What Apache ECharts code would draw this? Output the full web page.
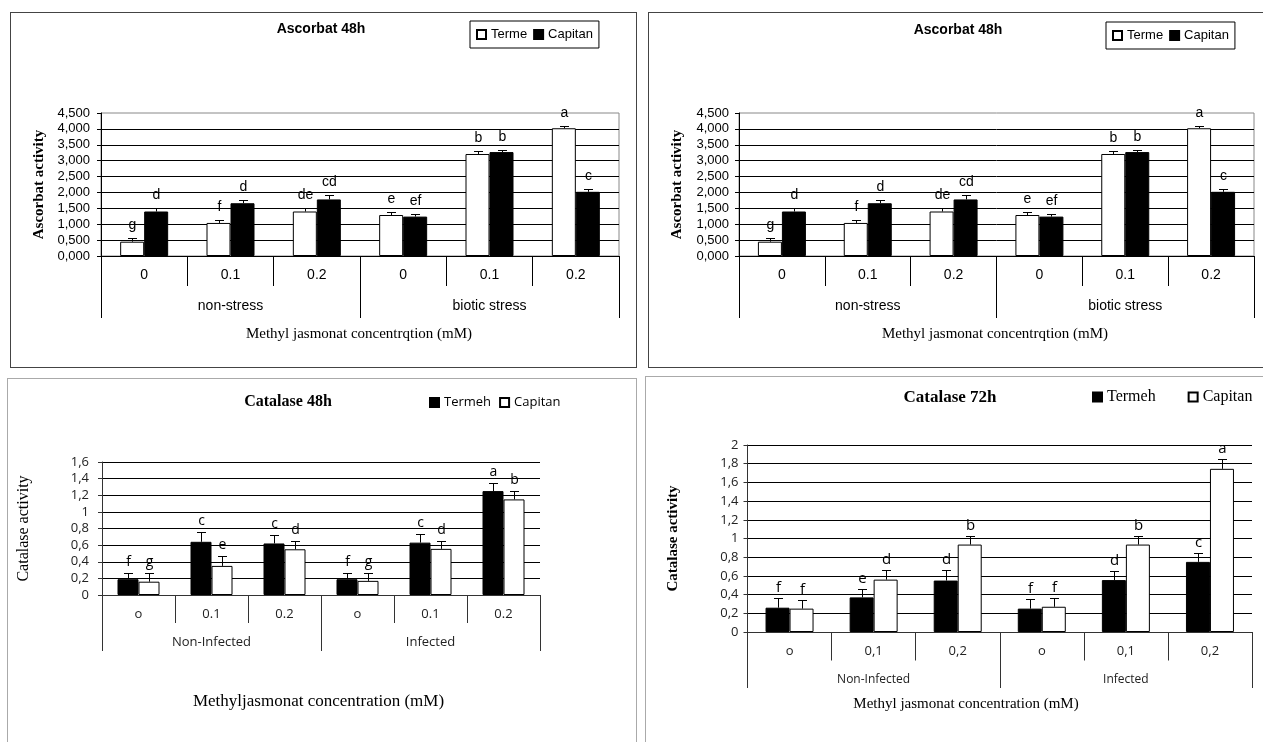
<!DOCTYPE html>
<html>
<head>
<meta charset="utf-8">
<title>Ascorbat and Catalase activity</title>
<script src="https://cdn.jsdelivr.net/npm/echarts@6/dist/echarts.min.js"></script>
<style>
html, body { margin: 0; padding: 0; width: 1263px; height: 742px; overflow: hidden; background: #fff; }
.panel { position: absolute; box-sizing: border-box; }
.chart { position: absolute; left: 0; top: 0; width: 100%; height: 100%; }
#p1 { left: 10px; top: 12px; width: 627px; height: 356px; border: 1px solid #444; }
#p2 { left: 648px; top: 12px; width: 620px; height: 356px; border: 1px solid #444; }
#p3 { left: 7px; top: 378px; width: 630px; height: 380px; border: 1px solid #aaa; }
#p4 { left: 645px; top: 376px; width: 625px; height: 380px; border: 1px solid #aaa; }
</style>
</head>
<body>
<div class="panel" id="p1"><div class="chart" id="c1"></div></div>
<div class="panel" id="p2"><div class="chart" id="c2"></div></div>
<div class="panel" id="p3"><div class="chart" id="c3"></div></div>
<div class="panel" id="p4"><div class="chart" id="c4"></div></div>
<script>
// Ascorbat 48h (same figure drawn twice on top)
var ascCats = ['0', '0.1', '0.2', '0', '0.1', '0.2'];
var ascGroups = ['non-stress', 'biotic stress'];
var ascTerme = [0.45, 1.04, 1.40, 1.29, 3.21, 4.02];
var ascTermeErr = [0.13, 0.10, 0.11, 0.09, 0.08, 0.08];
var ascTermeLetters = ['g', 'f', 'de', 'e', 'b', 'a'];
var ascCapitan = [1.40, 1.66, 1.78, 1.24, 3.27, 2.02];
var ascCapitanErr = [0.11, 0.09, 0.13, 0.08, 0.08, 0.10];
var ascCapitanLetters = ['d', 'd', 'cd', 'ef', 'b', 'c'];

// Catalase 48h
var cat48Cats = ['o', '0.1', '0.2', 'o', '0.1', '0.2'];
var cat48Groups = ['Non-Infected', 'Infected'];
var cat48Termeh = [0.19, 0.64, 0.62, 0.19, 0.63, 1.25];
var cat48TermehErr = [0.08, 0.12, 0.10, 0.08, 0.10, 0.10];
var cat48TermehLetters = ['f', 'c', 'c', 'f', 'c', 'a'];
var cat48Capitan = [0.16, 0.35, 0.55, 0.17, 0.555, 1.15];
var cat48CapitanErr = [0.10, 0.12, 0.10, 0.09, 0.10, 0.10];
var cat48CapitanLetters = ['g', 'e', 'd', 'g', 'd', 'b'];

// Catalase 72h
var cat72Cats = ['o', '0,1', '0,2', 'o', '0,1', '0,2'];
var cat72Groups = ['Non-Infected', 'Infected'];
var cat72Termeh = [0.26, 0.37, 0.55, 0.25, 0.555, 0.75];
var cat72TermehErr = [0.10, 0.09, 0.11, 0.10, 0.10, 0.10];
var cat72TermehLetters = ['f', 'e', 'd', 'f', 'd', 'c'];
var cat72Capitan = [0.25, 0.56, 0.935, 0.27, 0.935, 1.745];
var cat72CapitanErr = [0.09, 0.10, 0.09, 0.09, 0.09, 0.10];
var cat72CapitanLetters = ['f', 'd', 'b', 'f', 'b', 'a'];

function commaFmt(digits) {
  return function (v) {
    if (digits) return v.toFixed(digits).replace('.', ',');
    return String(Math.round(v * 10) / 10).replace('.', ',');
  };
}

// error bar + significance letter, placed over one bar of each pair
function errSeries(vals, errs, letters, side, s) {
  return {
    type: 'custom',
    name: 'err' + side,
    silent: true,
    z: 10,
    data: vals.map(function (v, i) { return [i, v, errs[i]]; }),
    renderItem: function (params, api) {
      var c = api.coord([api.value(0), api.value(1)]);
      var t = api.coord([api.value(0), api.value(1) + api.value(2)]);
      var x = Math.round(c[0] + side * s.barWidth / 2) + 0.5;
      var yt = Math.round(t[1]) + 0.5;
      return {
        type: 'group',
        children: [
          { type: 'line', shape: { x1: x, y1: c[1], x2: x, y2: yt }, style: { stroke: '#000', lineWidth: 1 } },
          { type: 'line', shape: { x1: x - s.cap, y1: yt, x2: x + s.cap, y2: yt }, style: { stroke: '#000', lineWidth: 1 } },
          { type: 'text', x: x, y: yt - s.letterGap,
            style: { text: letters[params.dataIndex], font: s.letterFont, fill: '#000', align: 'center', verticalAlign: 'middle' } }
        ]
      };
    }
  };
}

function panel(d, s) {
  var white = { color: '#fff', borderColor: '#000', borderWidth: 1 };
  var black = { color: '#000', borderColor: '#000', borderWidth: 1 };
  return {
    animation: false,
    graphic: [
      { type: 'text', x: s.title[0], y: s.title[1],
        style: { text: s.titleText, font: s.titleFont, fill: '#000', align: 'center', verticalAlign: 'middle', textAlign: 'center', textVerticalAlign: 'middle' } },
      { type: 'text', x: s.xTitle[0], y: s.xTitle[1],
        style: { text: s.xTitleText, font: s.xTitleFont, fill: '#000', align: 'center', verticalAlign: 'middle', textAlign: 'center', textVerticalAlign: 'middle' } }
    ],
    legend: Object.assign({
      data: [d.first.name, d.second.name],
      icon: 'rect', itemWidth: 9, itemHeight: 9,
      selectedMode: false
    }, s.legend),
    grid: Object.assign({ containLabel: false }, s.grid),
    xAxis: [
      {
        type: 'category', data: d.cats, position: 'bottom',
        axisLine: { show: true, lineStyle: { color: s.axisColor, width: 1 } },
        axisTick: { show: true, interval: 0, length: s.tick1, lineStyle: { color: s.axisColor } },
        axisLabel: { interval: 0, margin: s.catMargin, color: s.labelColor, fontFamily: s.labelFamily, fontSize: s.catSize }
      },
      {
        type: 'category', data: d.groups, position: 'bottom',
        axisLine: { show: false },
        axisTick: { show: true, interval: 0, length: s.tick2, lineStyle: { color: s.axisColor } },
        axisLabel: { interval: 0, margin: s.groupMargin, color: s.labelColor, fontFamily: s.labelFamily, fontSize: s.groupSize }
      }
    ],
    yAxis: {
      type: 'value', min: 0, max: s.yMax, interval: s.yStep,
      name: s.yName, nameLocation: 'middle', nameGap: s.yNameGap,
      nameTextStyle: s.yNameStyle,
      axisLine: { show: true, lineStyle: { color: s.axisColor } },
      axisTick: { show: true, length: 4, lineStyle: { color: s.axisColor } },
      axisLabel: { margin: s.yMargin, formatter: s.yFmt, color: s.labelColor, fontFamily: s.labelFamily, fontSize: s.ySize },
      splitLine: { showMaxLine: s.showMax, lineStyle: { color: '#000', width: 1 } }
    },
    series: [
      { type: 'bar', name: d.first.name, data: d.first.vals, barWidth: s.barWidth, barGap: '0%',
        itemStyle: d.first.white ? white : black, silent: true },
      { type: 'bar', name: d.second.name, data: d.second.vals, barWidth: s.barWidth, barGap: '0%',
        itemStyle: d.second.white ? white : black, silent: true },
      errSeries(d.first.vals, d.first.errs, d.first.letters, -1, s),
      errSeries(d.second.vals, d.second.errs, d.second.letters, 1, s)
    ]
  };
}

var ascData = {
  cats: ascCats, groups: ascGroups,
  first: { name: 'Terme', vals: ascTerme, errs: ascTermeErr, letters: ascTermeLetters, white: true },
  second: { name: 'Capitan', vals: ascCapitan, errs: ascCapitanErr, letters: ascCapitanLetters, white: false }
};

function ascStyle(o) {
  return Object.assign({
    titleText: 'Ascorbat 48h', titleFont: 'bold 14px "Liberation Sans", Arial, sans-serif',
    xTitleText: 'Methyl jasmonat concentrqtion (mM)', xTitleFont: '15px "Liberation Serif", "Times New Roman", serif',
    axisColor: '#000', labelColor: '#000', labelFamily: 'Liberation Sans',
    catSize: 14, groupSize: 14, ySize: 13,
    tick1: 30, tick2: 62, catMargin: 12, groupMargin: 43,
    yMax: 4.5, yStep: 0.5, yFmt: commaFmt(3), showMax: false,
    yName: 'Ascorbat activity', yNameGap: 54,
    yNameStyle: { fontFamily: 'Liberation Serif', fontWeight: 'bold', fontSize: 15, color: '#000' },
    barWidth: 24, cap: 4.5, letterGap: 13, letterFont: '14px "Liberation Sans", Arial, sans-serif'
  }, o);
}

var opt1 = panel(ascData, ascStyle({
  title: [310, 16.5], xTitle: [348, 321.5],
  legend: { left: 459, top: 8, padding: [7, 6], itemGap: 6, borderColor: '#000', borderWidth: 1,
    textStyle: { fontFamily: 'Liberation Sans', fontSize: 13, color: '#000' } },
  grid: { left: 90, top: 100, width: 518, height: 143, show: true, borderColor: '#888', borderWidth: 1 },
  yMargin: 11
}));

var opt2 = panel(ascData, ascStyle({
  title: [309, 17], xTitle: [346, 321.5],
  legend: { left: 457, top: 9, padding: [7, 6], itemGap: 6, borderColor: '#000', borderWidth: 1,
    textStyle: { fontFamily: 'Liberation Sans', fontSize: 13, color: '#000' } },
  grid: { left: 90, top: 100, width: 515, height: 143, show: true, borderColor: '#888', borderWidth: 1 },
  yMargin: 10
}));

var opt3 = panel({
  cats: cat48Cats, groups: cat48Groups,
  first: { name: 'Termeh', vals: cat48Termeh, errs: cat48TermehErr, letters: cat48TermehLetters, white: false },
  second: { name: 'Capitan', vals: cat48Capitan, errs: cat48CapitanErr, letters: cat48CapitanLetters, white: true }
}, {
  titleText: 'Catalase 48h', titleFont: 'bold 16px "Liberation Serif", "Times New Roman", serif', title: [280, 22.5],
  xTitleText: 'Methyljasmonat concentration (mM)', xTitleFont: '17px "Liberation Serif", "Times New Roman", serif', xTitle: [310.5, 323],
  legend: { left: 421, top: 17, padding: 0, itemGap: 8,
    textStyle: { fontFamily: 'Open Sans', fontSize: 13, color: '#000' } },
  grid: { left: 93, top: 83, width: 439, height: 133 },
  axisColor: '#333', labelColor: '#222', labelFamily: 'Open Sans',
  catSize: 13, groupSize: 13, ySize: 13,
  tick1: 28, tick2: 56, catMargin: 13, groupMargin: 41,
  yMax: 1.6, yStep: 0.2, yFmt: commaFmt(0), showMax: true, yMargin: 13,
  yName: 'Catalase activity', yNameGap: 70,
  yNameStyle: { fontFamily: 'Liberation Serif', fontSize: 16, color: '#000' },
  barWidth: 21, cap: 4.5, letterGap: 11, letterFont: '14px "Open Sans", sans-serif'
});

var opt4 = panel({
  cats: cat72Cats, groups: cat72Groups,
  first: { name: 'Termeh', vals: cat72Termeh, errs: cat72TermehErr, letters: cat72TermehLetters, white: false },
  second: { name: 'Capitan', vals: cat72Capitan, errs: cat72CapitanErr, letters: cat72CapitanLetters, white: true }
}, {
  titleText: 'Catalase 72h', titleFont: 'bold 17px "Liberation Serif", "Times New Roman", serif', title: [304, 20.5],
  xTitleText: 'Methyl jasmonat concentration (mM)', xTitleFont: '15px "Liberation Serif", "Times New Roman", serif', xTitle: [320, 327],
  legend: { left: 446, top: 12, padding: 0, itemGap: 32,
    textStyle: { fontFamily: 'Liberation Serif', fontSize: 16, color: '#000' } },
  grid: { left: 101.5, top: 68, width: 504.5, height: 187 },
  axisColor: '#333', labelColor: '#222', labelFamily: 'Open Sans',
  catSize: 13, groupSize: 12, ySize: 13,
  tick1: 28.5, tick2: 56, catMargin: 13, groupMargin: 42,
  yMax: 2, yStep: 0.2, yFmt: commaFmt(0), showMax: true, yMargin: 9,
  yName: 'Catalase activity', yNameGap: 67,
  yNameStyle: { fontFamily: 'Liberation Serif', fontWeight: 'bold', fontSize: 15, color: '#000' },
  barWidth: 24, cap: 4.5, letterGap: 11, letterFont: '15px "Open Sans", sans-serif'
});

echarts.init(document.getElementById('c1')).setOption(opt1);
echarts.init(document.getElementById('c2')).setOption(opt2);
echarts.init(document.getElementById('c3')).setOption(opt3);
echarts.init(document.getElementById('c4')).setOption(opt4);
</script>
</body>
</html>
